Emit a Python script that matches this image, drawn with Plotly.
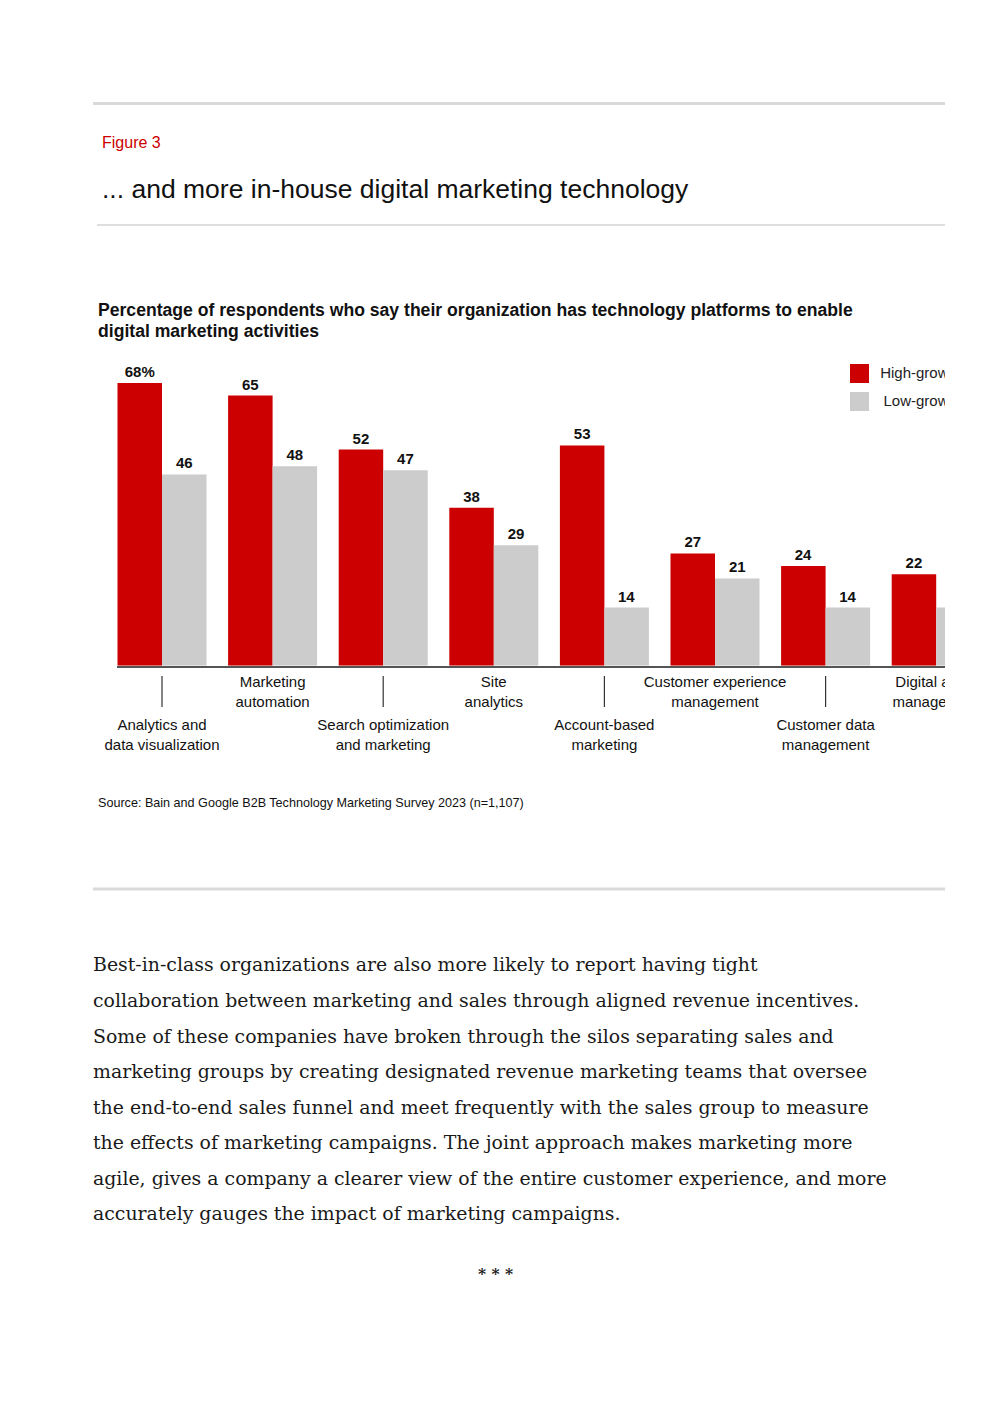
import plotly.graph_objects as go

# ---------------- data ----------------
categories = [
    "Analytics and<br>data visualization",
    "Marketing<br>automation",
    "Search optimization<br>and marketing",
    "Site<br>analytics",
    "Account-based<br>marketing",
    "Customer experience<br>management",
    "Customer data<br>management",
    "Digital asset<br>management",
]
high_growth = [68, 65, 52, 38, 53, 27, 24, 22]
low_growth = [46, 48, 47, 29, 14, 21, 14, 14]
series_names = ["High-growth", "Low-growth"]

figure_label = "Figure 3"
title_text = "... and more in-house digital marketing technology"
subtitle_lines = [
    "Percentage of respondents who say their organization has technology platforms to enable",
    "digital marketing activities",
]
source_text = "Source: Bain and Google B2B Technology Marketing Survey 2023 (n=1,107)"
body_lines = [
    "Best-in-class organizations are also more likely to report having tight",
    "collaboration between marketing and sales through aligned revenue incentives.",
    "Some of these companies have broken through the silos separating sales and",
    "marketing groups by creating designated revenue marketing teams that oversee",
    "the end-to-end sales funnel and meet frequently with the sales group to measure",
    "the effects of marketing campaigns. The joint approach makes marketing more",
    "agile, gives a company a clearer view of the entire customer experience, and more",
    "accurately gauges the impact of marketing campaigns.",
]

# ---------------- geometry helpers (page pixels) ----------------
W, H = 976, 1387
OFF = 8
RED = "#CC0000"
GREY = "#CCCCCC"
SANS = "Liberation Sans, Arial, sans-serif"
SERIF = "DejaVu Serif, serif"


def px(x):
    return (x - OFF) / W


def py(y):
    return 1 - (y - OFF) / H


GX0, GSTEP = 162.0, 110.6      # pixel centre of first group, pixels per category
YBASE, YPU = 665.7, 4.157      # baseline pixel, pixels per percentage point


def xd(p):
    return (p - GX0) / GSTEP


def yd(p):
    return (YBASE - p) / YPU


idx = list(range(len(categories)))
hg_text = [f"{v}%" if i == 0 else str(v) for i, v in enumerate(high_growth)]
lg_text = [str(v) for v in low_growth]

fig = go.Figure()

bar_font = dict(family=SANS, size=15, color="#111111", weight="bold")
fig.add_trace(go.Bar(
    x=idx, y=high_growth, name=series_names[0], marker_color=RED,
    marker_line_width=0, text=hg_text, textposition="outside",
    textfont=bar_font, constraintext="none", showlegend=False,
    xaxis="x", yaxis="y",
))
fig.add_trace(go.Bar(
    x=idx, y=low_growth, name=series_names[1], marker_color=GREY,
    marker_line_width=0, text=lg_text, textposition="outside",
    textfont=bar_font, constraintext="none", showlegend=False,
    xaxis="x", yaxis="y",
))

# legend drawn inside the plot area so it is clipped like the reference
fig.add_trace(go.Scatter(
    x=[xd(859.5), xd(859.5)], y=[yd(373.5), yd(401.5)], mode="markers",
    marker=dict(symbol="square", size=19, color=[RED, GREY], line_width=0),
    cliponaxis=True, showlegend=False, hoverinfo="skip", xaxis="x", yaxis="y",
))
fig.add_trace(go.Scatter(
    x=[xd(961), xd(961)], y=[yd(374.5), yd(402)], mode="text",
    text=series_names, textposition="middle left",
    textfont=dict(family=SANS, size=15, color="#222222"),
    cliponaxis=True, showlegend=False, hoverinfo="skip", xaxis="x", yaxis="y",
))

# category labels in a second (clipping) subplot below the bars
fig.add_trace(go.Scatter(
    x=idx, y=[736 if i % 2 == 0 else 693 for i in idx], mode="text",
    text=categories, textposition="middle center",
    textfont=dict(family=SANS, size=15, color="#111111"),
    cliponaxis=True, showlegend=False, hoverinfo="skip", xaxis="x2", yaxis="y2",
))

shapes = []
for i in idx:
    if i % 2 == 0:
        shapes.append(dict(type="line", xref="x2", yref="y2", x0=i, x1=i, y0=676, y1=707,
                           line=dict(color="#333333", width=1.2)))

# horizontal rules
for (x0, x1, y0, y1, c) in [(93, 945, 102, 105, "#D9D9D9"),
                            (97, 945, 224, 226, "#DEDEDE"),
                            (93, 945, 887.5, 890.5, "#D9D9D9")]:
    shapes.append(dict(type="rect", xref="paper", yref="paper",
                       x0=px(x0), x1=px(x1), y0=py(y1), y1=py(y0),
                       fillcolor=c, line_width=0, layer="below"))

annotations = []


def add_text(text, x, y, size, color="#111111", family=SANS, weight="normal", xanchor="left"):
    annotations.append(dict(
        text=text, x=px(x), y=py(y), xref="paper", yref="paper",
        xanchor=xanchor, yanchor="middle", showarrow=False, borderpad=0,
        font=dict(family=family, size=size, color=color, weight=weight),
    ))


add_text(figure_label, 101, 142, 16, color=RED)
add_text(title_text, 101, 189, 26.5, color="#111111")
add_text(subtitle_lines[0], 97, 310, 17.6, weight="bold")
add_text(subtitle_lines[1], 97, 331, 17.6, weight="bold")
add_text(source_text, 97, 803, 12.6)
body_y = [964, 1000, 1036, 1071, 1107, 1142, 1178, 1213]
for line, y in zip(body_lines, body_y):
    add_text(line, 92, y, 18.9, color="#1a1a1a", family=SERIF)
add_text("* * *", 495, 1273, 15.5, color="#1a1a1a", family=SERIF, weight="bold", xanchor="center")

fig.update_layout(
    width=W, height=H,
    margin=dict(l=0, r=0, t=0, b=0),
    paper_bgcolor="white", plot_bgcolor="white",
    barmode="group", bargap=1 - 89.0 / GSTEP, bargroupgap=0,
    hovermode=False,
    xaxis=dict(domain=[px(117), px(945)], range=[xd(117), xd(945)],
               showgrid=False, zeroline=False, showticklabels=False, ticks="",
               showline=True, linecolor="#555555", linewidth=1.5, fixedrange=True),
    yaxis=dict(domain=[py(YBASE), py(355)], range=[0, yd(355)],
               showgrid=False, zeroline=False, showticklabels=False, ticks="",
               showline=False, fixedrange=True),
    xaxis2=dict(domain=[px(90), px(945)], range=[xd(90), xd(945)], anchor="y2",
                showgrid=False, zeroline=False, showticklabels=False, ticks="",
                showline=False, fixedrange=True),
    yaxis2=dict(domain=[py(764), py(668)], range=[764, 668], anchor="x2",
                showgrid=False, zeroline=False, showticklabels=False, ticks="",
                showline=False, fixedrange=True),
    shapes=shapes,
    annotations=annotations,
    showlegend=False,
)

fig.write_html("out.html", config={"displayModeBar": False})
